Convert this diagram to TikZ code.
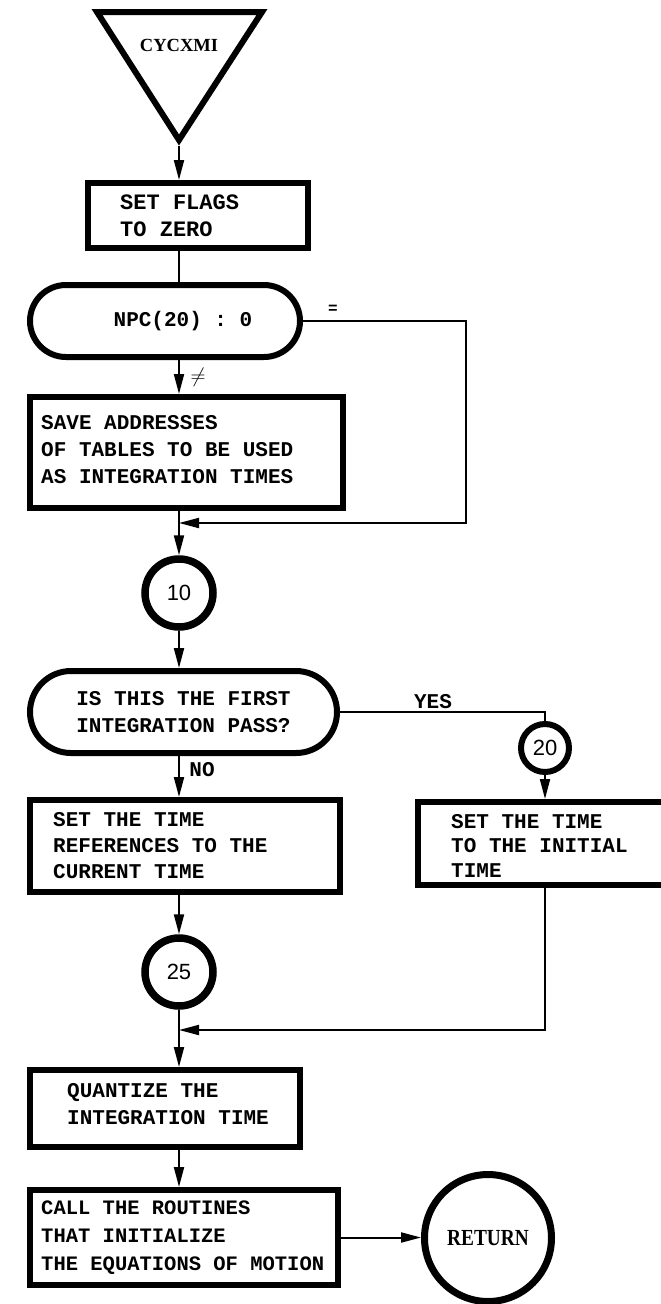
\documentclass[tikz,border=0pt]{standalone}
\usepackage{fontspec}
\setmonofont{Liberation Mono}
\newfontfamily\titlefont{Liberation Serif}
\newfontfamily\numfont{Liberation Sans}
\usetikzlibrary{arrows.meta,calc}

\begin{document}
\begin{tikzpicture}[x=1pt,y=-1pt,
  typed/.style={font=\ttfamily\bfseries\fontsize{21}{27}\selectfont},
  procbox/.style={draw, line width=6pt, rectangle, inner sep=0pt},
  boxtext/.style={typed, align=left, anchor=west, inner sep=0pt},
  decide/.style={draw, line width=6pt, rectangle, typed, align=center, inner sep=0pt},
  connector/.style={circle, draw, line width=7.5pt, inner sep=0pt,
    font=\numfont\fontsize{22}{22}\selectfont},
  flow/.style={line width=2pt, -{Triangle[length=20pt,width=10pt]}},
  plain/.style={line width=2pt},
  tag/.style={typed, inner sep=0pt},
]
\path[fill=white] (0,0) rectangle (661,1304);
\useasboundingbox (0,0) rectangle (661,1304);

% main vertical axis of the chart
\coordinate (axis) at (179,0);

% entry triangle
\draw[line width=6pt, line join=miter] (97,12) -- (262,12) -- (179,140) -- cycle;
\node[font=\titlefont\bfseries\fontsize{18.5}{18.5}\selectfont] (entry) at (179,45) {CYCXMI};
\coordinate (apex) at (179,146);

% process boxes (outline) with their left-set text
\node[procbox, minimum width=220pt, minimum height=65pt] (flags) at (198,215.5) {};
\node[boxtext, font=\ttfamily\bfseries\fontsize{22}{27}\selectfont]
  (flagsT) at ($(flags.west)+(35,0)$) {SET FLAGS\\TO ZERO};

\node[decide, rounded corners=36pt, minimum width=270pt, minimum height=72pt]
  (npc) at (165,321) {\hspace*{36pt}NPC(20) : 0};

\node[procbox, minimum width=313pt, minimum height=111pt] (save) at (186.5,452.5) {};
\node[boxtext] (saveT) at ($(save.west)+(14,-3)$)
  {SAVE ADDRESSES\\OF TABLES TO BE USED\\AS INTEGRATION TIMES};

\node[connector, minimum size=68pt] (c10) at (179,593) {10};

\node[decide, rounded corners=41pt, minimum width=307pt, minimum height=82pt]
  (pass) at (183.5,712) {IS THIS THE FIRST\\INTEGRATION PASS?};

\node[connector, line width=6pt, minimum size=48pt] (c20) at (545,748) {20};

\node[procbox, minimum width=254pt, minimum height=83pt] (init) at (545,843.5) {};
\node[boxtext, font=\ttfamily\bfseries\fontsize{21}{24.5}\selectfont]
  (initT) at ($(init.west)+(36,2)$) {SET THE TIME\\TO THE INITIAL\\TIME};

\node[procbox, minimum width=310pt, minimum height=92pt] (refs) at (185,846) {};
\node[boxtext, font=\ttfamily\bfseries\fontsize{21}{26}\selectfont]
  (refsT) at ($(refs.west)+(26,0)$) {SET THE TIME\\REFERENCES TO THE\\CURRENT TIME};

\node[connector, minimum size=68pt] (c25) at (179,972) {25};

\node[procbox, minimum width=270pt, minimum height=77pt] (quant) at (165,1108.5) {};
\node[boxtext] (quantT) at ($(quant.west)+(40,-4)$) {QUANTIZE THE\\INTEGRATION TIME};

\node[procbox, minimum width=308pt, minimum height=95pt] (call) at (184,1237.5) {};
\node[boxtext, font=\ttfamily\bfseries\fontsize{20.5}{28}\selectfont]
  (callT) at ($(call.west)+(14,0)$)
  {CALL THE ROUTINES\\THAT INITIALIZE\\THE EQUATIONS OF MOTION};

\node[circle, draw, line width=7pt, minimum size=127pt, inner sep=0pt,
  font=\titlefont\bfseries\fontsize{23}{23}\selectfont]
  (ret) at (488,1238) {\scalebox{0.84}[1]{RETURN}};

% junction points and turning columns
\coordinate (fbx) at (466,0);
\coordinate (j1) at (179,523);
\coordinate (j2) at (179,1030);

% connectors
\draw[flow] (apex) -- (axis |- flags.north);
\draw[plain] (axis |- flags.south) -- (axis |- npc.north);
\draw[flow] (axis |- npc.south) -- (axis |- save.north);
\draw[flow] (npc.east) -- (npc.east -| fbx) |- (j1);
\draw[flow] (axis |- save.south) -- (c10.north);
\draw[flow] (c10.south) -- (axis |- pass.north);
\draw[plain] (pass.east) -| (c20.north);
\draw[flow] (c20.south) -- (init.north);
\draw[flow] (axis |- pass.south) -- (axis |- refs.north);
\draw[flow] (axis |- refs.south) -- (c25.north);
\draw[flow] (init.south) |- (j2);
\draw[flow] (c25.south) -- (axis |- quant.north);
\draw[flow] (axis |- quant.south) -- (axis |- call.north);
\draw[flow] (call.east) -- (call.east -| ret.west);

% branch labels
\node[font=\ttfamily\bfseries\fontsize{16}{16}\selectfont] (eqtag) at (333,309) {=};
\node[font=\fontsize{20}{20}\selectfont] (netag) at (198,377) {$\neq$};
\node[tag] (yestag) at (433,702) {YES};
\node[tag] (notag) at (202,770) {NO};
\end{tikzpicture}
\end{document}
